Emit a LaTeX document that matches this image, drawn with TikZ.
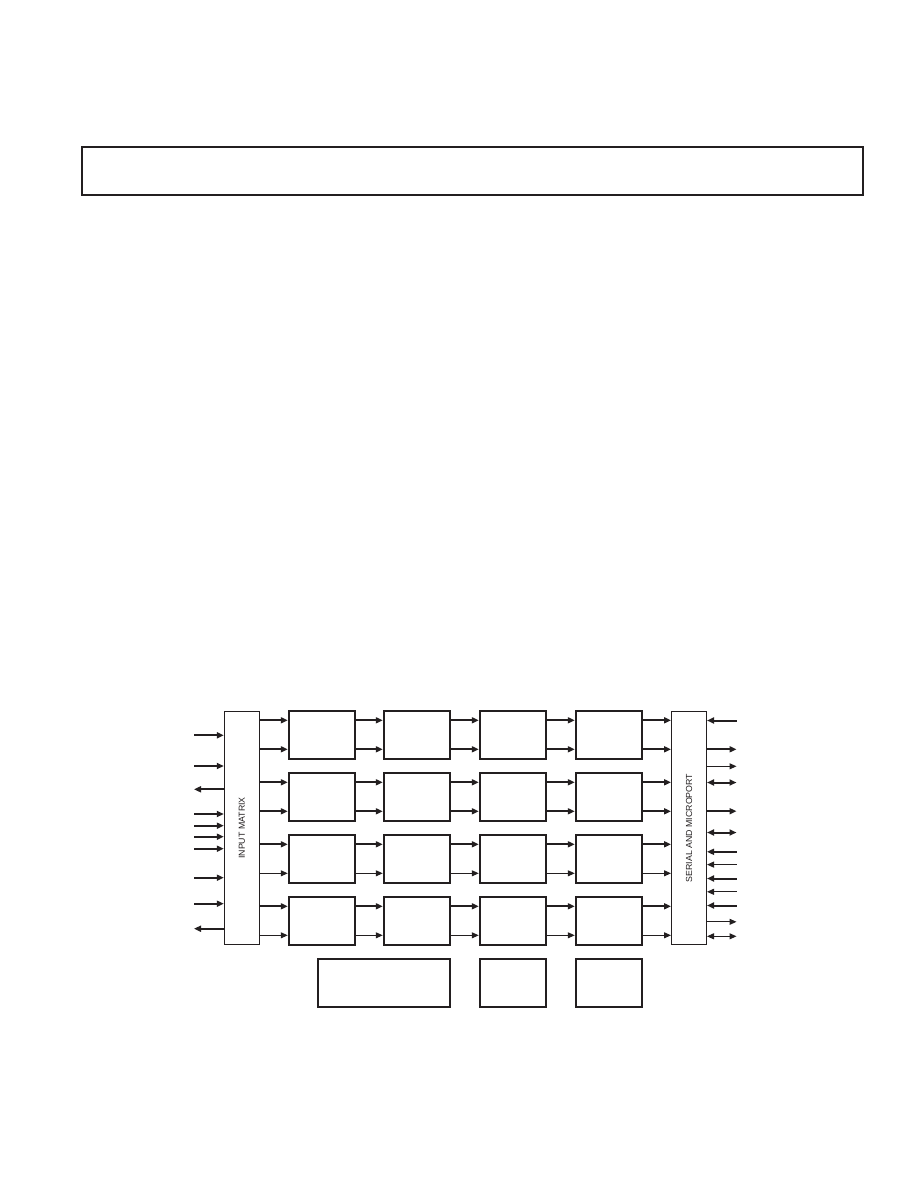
\documentclass[tikz,border=0pt]{standalone}
\usepackage{fontspec}
\setmainfont{Liberation Sans}
\usetikzlibrary{arrows.meta}
\definecolor{ink}{RGB}{35,31,32}
\begin{document}
\begin{tikzpicture}[x=1pt, y=-1pt, >={Triangle[length=7pt,width=6pt]}, color=ink]

	\tikzset{
		fat/.style={line width=2pt},
		thin/.style={line width=1pt},
		blk/.style={draw, fat, minimum width=66.5pt, minimum height=48.3pt, inner sep=0pt},
		bar/.style={draw, thin, minimum width=35pt, minimum height=232.6pt, inner sep=0pt},
		lbl/.style={rotate=90, font=\fontsize{8.8}{9}\selectfont, inner sep=0pt}
	}

	\useasboundingbox (0,0) rectangle (918,1188);

	% ---------------------------
	% header frame
	% ---------------------------
	\node[draw, fat, minimum width=781.6pt, minimum height=48.3pt] (hdr) at (472.5,170.85) {};

	% ---------------------------
	% side blocks
	% ---------------------------
	\node[bar] (im) at (241.8,828) {};
	\node[lbl] (imtxt) at (im.center) {INPUT MATRIX};
	\node[bar] (sp) at (689,828) {};
	\node[lbl] (sptxt) at (sp.center) {SERIAL AND MICROPORT};

	% ---------------------------
	% 4x4 grid of blocks (row-col)
	% ---------------------------
	\foreach \r in {1,...,4} {
		\foreach \k/\x in {1/322,2/417,3/513,4/609} {
			\node[blk] (c\r-\k) at (\x,{734.8+62*(\r-1)}) {};
		}
	}

	% bottom blocks
	\node[blk, minimum width=131.7pt] (b1) at (384.2,983) {};
	\node[blk] (b2) at (513,983) {};
	\node[blk] (b3) at (609,983) {};

	% ---------------------------
	% row connections: upper line always heavy
	% ---------------------------
	\foreach \r/\lw in {1/fat,2/fat,3/thin,4/thin} {
		\path (c\r-1.west) ++(0,-14.5) coordinate (up\r) ++(0,29) coordinate (dn\r);
		\foreach \a/\b in {im/c\r-1,c\r-1/c\r-2,c\r-2/c\r-3,c\r-3/c\r-4,c\r-4/sp} {
			\draw[fat,->] (\a.east |- up\r) -- (\b.west |- up\r);
			\draw[\lw,->] (\a.east |- dn\r) -- (\b.west |- dn\r);
		}
	}

	% ---------------------------
	% inputs on the left
	% ---------------------------
	\foreach \y/\d [count=\i] in {735.3/->,766/->,789.3/<-,814/->,825.7/->,836.7/->,848.7/->,877.7/->,903.7/->,928.7/<-} {
		\coordinate (lf\i) at (194,\y);
		\draw[fat,\d] (lf\i) -- (im.west |- lf\i);
	}

	% ---------------------------
	% lines on the right
	% ---------------------------
	\foreach \y/\lw/\d [count=\i] in {720.5/fat/<-,749.3/fat/->,766.3/thin/->,782.5/fat/<->,811.2/fat/->,832.5/fat/<->,
		851.8/fat/<-,864.6/thin/<-,878.5/fat/<-,891.8/thin/<-,905.5/fat/<-,921.8/thin/->,936.3/thin/<->} {
		\coordinate (rt\i) at (736.5,\y);
		\draw[\lw,\d] (sp.east |- rt\i) -- (rt\i);
	}

\end{tikzpicture}
\end{document}
